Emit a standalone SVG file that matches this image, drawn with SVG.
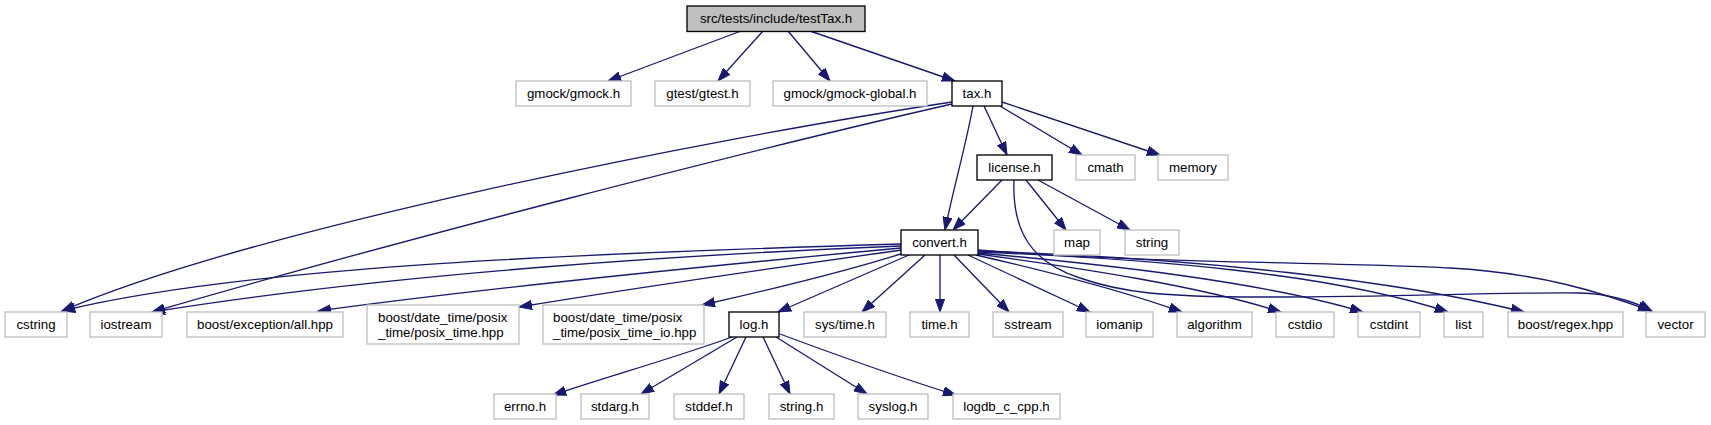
<svg xmlns="http://www.w3.org/2000/svg" width="1711" height="425" viewBox="0 0 1711 425">
<style>
text{font-family:"Liberation Sans",Arial,sans-serif;font-size:13.3px;fill:#000}
.c{text-anchor:middle}
.s{text-anchor:start}
.ext{fill:#fff;stroke:#bfbfbf;stroke-width:1.33}
.int{fill:#fff;stroke:#000;stroke-width:1.33}
.root{fill:#bfbfbf;stroke:#000;stroke-width:1.33}
.e path{fill:none;stroke:#191970;stroke-width:1.33;marker-end:url(#ah)}
</style>
<defs>
<marker id="ah" markerWidth="14" markerHeight="10" refX="13" refY="5" orient="auto" markerUnits="userSpaceOnUse">
<path d="M0,0.4 L13,5 L0,9.6 z" fill="#191970" stroke="#191970" stroke-width="1"/>
</marker>
</defs>
<rect width="1711" height="425" fill="#fff"/>
<g id="edges" class="e">
<path d="M741,31 L608,81"/>
<path d="M763,31 L718,81"/>
<path d="M788,31 L830,81"/>
<path d="M810,31 L955,81"/>
<path d="M952,102 C700,140 250,230 62,311"/>
<path d="M952,104 C750,150 400,240 152,312"/>
<path d="M973,106 C966,145 953,190 945,230"/>
<path d="M984,106 L1007,155"/>
<path d="M1000,106 L1082,155"/>
<path d="M1002,102 L1160,155"/>
<path d="M1002,180 L953,230"/>
<path d="M1026,180 L1066,230"/>
<path d="M1038,180 L1130,230"/>
<path d="M1014,180 C1012,230 1030,262 1080,278 C1120,292 1160,297 1260,297 C1400,297 1500,292 1580,293 C1610,294 1635,302 1652,311"/>
<path d="M901,244 C600,253 250,265 62,311"/>
<path d="M901,246 C700,254 400,272 152,312"/>
<path d="M901,248 C750,262 500,286 318,311"/>
<path d="M902,250 C780,267 640,287 519,307"/>
<path d="M904,253 C850,270 760,292 702,305"/>
<path d="M909,255 L778,312"/>
<path d="M925,255 L862,312"/>
<path d="M940,255 L940,312"/>
<path d="M954,255 L1009,312"/>
<path d="M968,255 L1090,312"/>
<path d="M976,255 C1050,272 1120,290 1182,312"/>
<path d="M978,254 C1080,268 1200,286 1281,312"/>
<path d="M978,253 C1100,264 1260,281 1363,312"/>
<path d="M978,252 C1150,259 1330,273 1448,312"/>
<path d="M978,251 C1200,258 1400,281 1524,312"/>
<path d="M978,250 C1150,264 1350,262 1450,268 C1540,273 1600,292 1651,311"/>
<path d="M732,337 C680,356 610,376 553,395"/>
<path d="M737,337 L641,394"/>
<path d="M746,337 L719,394"/>
<path d="M763,337 L790,394"/>
<path d="M776,337 L867,394"/>
<path d="M780,334 C850,360 900,378 956,395"/>
</g>
<g id="n_testTax"><rect class="root" x="687" y="6" width="178" height="25.5"/><text class="c" x="776" y="23.3">src/tests/include/testTax.h</text></g>
<g id="n_gmock"><rect class="ext" x="516" y="81" width="115" height="25"/><text class="c" x="573.5" y="98">gmock/gmock.h</text></g>
<g id="n_gtest"><rect class="ext" x="655" y="81" width="95" height="25"/><text class="c" x="702.5" y="98">gtest/gtest.h</text></g>
<g id="n_gmockglobal"><rect class="ext" x="773" y="81" width="154" height="25"/><text class="c" x="850" y="98">gmock/gmock-global.h</text></g>
<g id="n_tax"><rect class="int" x="952" y="81" width="50" height="25"/><text class="c" x="977" y="98">tax.h</text></g>
<g id="n_license"><rect class="int" x="977" y="155" width="75" height="25"/><text class="c" x="1014.5" y="172">license.h</text></g>
<g id="n_cmath"><rect class="ext" x="1076" y="155" width="59" height="25"/><text class="c" x="1105.5" y="172">cmath</text></g>
<g id="n_memory"><rect class="ext" x="1158" y="155" width="70" height="25"/><text class="c" x="1193" y="172">memory</text></g>
<g id="n_convert"><rect class="int" x="901" y="230" width="77" height="25"/><text class="c" x="939.5" y="247">convert.h</text></g>
<g id="n_map"><rect class="ext" x="1054" y="230" width="46" height="25"/><text class="c" x="1077" y="247">map</text></g>
<g id="n_string"><rect class="ext" x="1125" y="230" width="54" height="25"/><text class="c" x="1152" y="247">string</text></g>
<g id="n_cstring"><rect class="ext" x="5" y="312" width="62" height="25"/><text class="c" x="36" y="329">cstring</text></g>
<g id="n_iostream"><rect class="ext" x="90" y="312" width="72" height="25"/><text class="c" x="126" y="329">iostream</text></g>
<g id="n_bexc"><rect class="ext" x="187" y="312" width="156" height="25"/><text class="c" x="265" y="329">boost/exception/all.hpp</text></g>
<g id="n_posix"><rect class="ext" x="367" y="305" width="152" height="39"/><text class="s" x="378" y="321.5">boost/date_time/posix</text><text class="s" x="378" y="336.5">_time/posix_time.hpp</text></g>
<g id="n_posixio"><rect class="ext" x="543" y="305" width="161" height="39"/><text class="s" x="553" y="321.5">boost/date_time/posix</text><text class="s" x="553" y="336.5">_time/posix_time_io.hpp</text></g>
<g id="n_log"><rect class="int" x="729" y="312" width="50" height="25"/><text class="c" x="754" y="329">log.h</text></g>
<g id="n_systime"><rect class="ext" x="804" y="312" width="82" height="25"/><text class="c" x="845" y="329">sys/time.h</text></g>
<g id="n_time"><rect class="ext" x="910" y="312" width="59" height="25"/><text class="c" x="939.5" y="329">time.h</text></g>
<g id="n_sstream"><rect class="ext" x="993" y="312" width="70" height="25"/><text class="c" x="1028" y="329">sstream</text></g>
<g id="n_iomanip"><rect class="ext" x="1086" y="312" width="67" height="25"/><text class="c" x="1119.5" y="329">iomanip</text></g>
<g id="n_algorithm"><rect class="ext" x="1177" y="312" width="75" height="25"/><text class="c" x="1214.5" y="329">algorithm</text></g>
<g id="n_cstdio"><rect class="ext" x="1276" y="312" width="58" height="25"/><text class="c" x="1305" y="329">cstdio</text></g>
<g id="n_cstdint"><rect class="ext" x="1358" y="312" width="62" height="25"/><text class="c" x="1389" y="329">cstdint</text></g>
<g id="n_list"><rect class="ext" x="1444" y="312" width="39" height="25"/><text class="c" x="1463.5" y="329">list</text></g>
<g id="n_regex"><rect class="ext" x="1508" y="312" width="115" height="25"/><text class="c" x="1565.5" y="329">boost/regex.hpp</text></g>
<g id="n_vector"><rect class="ext" x="1646" y="312" width="59" height="25"/><text class="c" x="1675.5" y="329">vector</text></g>
<g id="n_errno"><rect class="ext" x="494" y="394" width="62" height="25"/><text class="c" x="525" y="411">errno.h</text></g>
<g id="n_stdarg"><rect class="ext" x="581" y="394" width="68" height="25"/><text class="c" x="615" y="411">stdarg.h</text></g>
<g id="n_stddef"><rect class="ext" x="674" y="394" width="70" height="25"/><text class="c" x="709" y="411">stddef.h</text></g>
<g id="n_stringh"><rect class="ext" x="769" y="394" width="65" height="25"/><text class="c" x="801.5" y="411">string.h</text></g>
<g id="n_syslog"><rect class="ext" x="858" y="394" width="70" height="25"/><text class="c" x="893" y="411">syslog.h</text></g>
<g id="n_logdb"><rect class="ext" x="953" y="394" width="107" height="25"/><text class="c" x="1006.5" y="411">logdb_c_cpp.h</text></g>
</svg>
